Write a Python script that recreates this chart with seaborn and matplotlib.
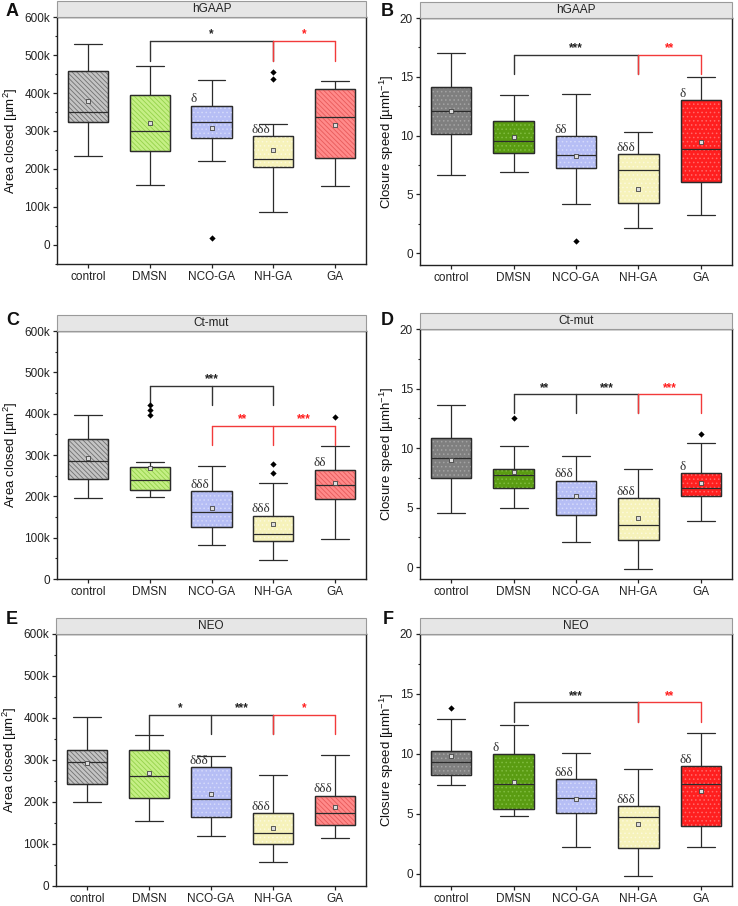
import numpy as np
import pandas as pd
import matplotlib
matplotlib.use("Agg")
import matplotlib.pyplot as plt
from matplotlib.patches import PathPatch, Rectangle
from matplotlib.ticker import MultipleLocator, FuncFormatter
import seaborn as sns

groups = ["control", "DMSN", "NCO-GA", "NH-GA", "GA"]

# five-number summaries per group: [whisker low, Q1, median, Q3, whisker high]
# A - hGAAP, area closed
A_box = [[234e3, 324e3, 351e3, 457e3, 530e3],
         [159e3, 247e3, 301e3, 396e3, 472e3],
         [221e3, 281e3, 324e3, 367e3, 433e3],
         [86e3, 205e3, 225e3, 286e3, 319e3],
         [155e3, 230e3, 336e3, 410e3, 431e3]]
A_mean = [379e3, 320e3, 307e3, 250e3, 315e3]
A_out = [("NCO-GA", 18e3), ("NH-GA", 455e3), ("NH-GA", 436e3)]
A_delta = ["", "", "δ", "δδδ", ""]

# B - hGAAP, closure speed
B_box = [[6.61, 10.13, 12.06, 14.1, 17.02],
         [6.87, 8.51, 9.53, 11.26, 13.48],
         [4.2, 7.23, 8.37, 9.96, 13.56],
         [2.13, 4.28, 7.04, 8.4, 10.3],
         [3.26, 6.07, 8.85, 13.02, 15.0]]
B_mean = [12.1, 9.9, 8.23, 5.5, 9.5]
B_out = [("NCO-GA", 1.02)]
B_delta = ["", "", "δδ", "δδδ", "δ"]

# C - Ct-mut, area closed
C_box = [[195e3, 241e3, 286e3, 338e3, 397e3],
         [198e3, 216e3, 240e3, 270e3, 284e3],
         [83e3, 127e3, 162e3, 213e3, 274e3],
         [46e3, 92e3, 109e3, 153e3, 232e3],
         [97e3, 193e3, 227e3, 264e3, 322e3]]
C_mean = [292e3, 268e3, 171e3, 134e3, 232e3]
C_out = [("DMSN", 421e3), ("DMSN", 409e3), ("DMSN", 396e3),
         ("NH-GA", 278e3), ("NH-GA", 257e3), ("GA", 391e3)]
C_delta = ["", "", "δδδ", "δδδ", "δδ"]

# D - Ct-mut, closure speed
D_box = [[4.57, 7.48, 9.16, 10.81, 13.64],
         [4.96, 6.64, 7.76, 8.24, 10.2],
         [2.07, 4.37, 5.77, 7.25, 9.3],
         [-0.2, 2.3, 3.53, 5.77, 8.24],
         [3.84, 5.94, 6.64, 7.9, 10.39]]
D_mean = [8.99, 7.98, 5.94, 4.09, 7.03]
D_out = [("DMSN", 12.55), ("GA", 11.2)]
D_delta = ["", "", "δδδ", "δδδ", "δ"]

# E - NEO, area closed
E_box = [[200e3, 244e3, 296e3, 325e3, 403e3],
         [154e3, 209e3, 262e3, 324e3, 359e3],
         [120e3, 164e3, 206e3, 283e3, 310e3],
         [57e3, 100e3, 126e3, 174e3, 264e3],
         [115e3, 146e3, 174e3, 215e3, 311e3]]
E_mean = [294e3, 268e3, 219e3, 139e3, 189e3]
E_out = []
E_delta = ["", "", "δδδ", "δδδ", "δδδ"]

# F - NEO, closure speed
F_box = [[7.45, 8.29, 9.35, 10.26, 12.9],
         [4.84, 5.42, 7.48, 9.99, 12.43],
         [2.23, 5.06, 6.37, 7.9, 10.1],
         [-0.14, 2.14, 4.78, 5.65, 8.73],
         [2.23, 4.03, 7.54, 8.96, 11.79]]
F_mean = [9.82, 7.7, 6.29, 4.14, 6.95]
F_out = [("control", 13.8)]
F_delta = ["", "δ", "δδδ", "δδδ", "δδ"]

# significance brackets: (legs, top, leg bottom, colour, [(x, stars)])
A_brk = [([1, 3], 536e3, 485e3, "k", [(2, "*")]),
         ([3, 4], 536e3, 485e3, "r", [(3.5, "*")])]
B_brk = [([1, 3], 16.88, 15.26, "k", [(2, "***")]),
         ([3, 4], 16.88, 15.26, "r", [(3.5, "**")])]
C_brk = [([1, 2, 3], 467e3, 422e3, "k", [(2, "***")]),
         ([2, 3, 4], 370e3, 324e3, "r", [(2.5, "**"), (3.5, "***")])]
D_brk = [([1, 2, 3], 14.51, 12.94, "k", [(1.5, "**"), (2.5, "***")]),
         ([3, 4], 14.51, 12.94, "r", [(3.5, "***")])]
E_brk = [([1, 2, 3], 408e3, 361e3, "k", [(1.5, "*"), (2.5, "***")]),
         ([3, 4], 408e3, 361e3, "r", [(3.5, "*")])]
F_brk = [([1, 3], 14.3, 12.66, "k", [(2, "***")]),
         ([3, 4], 14.3, 12.66, "r", [(3.5, "**")])]

LINES = "\\" * 7
DOTS = "...."
area_faces = ["#c4c4c4", "#c5ef85", "#b6bef5", "#f6f2ba", "#ff8a8a"]
area_hatch = [LINES, LINES, DOTS, DOTS, LINES]
area_hcol = ["#707070", "#94d24a", "#d4d9fa", "#fcf9dc", "#e85a5a"]
speed_faces = ["#7f7f7f", "#5a9c12", "#b6bef5", "#f6f2ba", "#ff1f1f"]
speed_hatch = [DOTS] * 5
speed_hcol = ["#a3a3a3", "#80bc40", "#d4d9fa", "#fcf9dc", "#ff6a6a"]

LINE = "#2b2b2b"
BRK_COL = {"k": "#333333", "r": "#f23a3a"}
STAR_COL = {"k": "#222222", "r": "#ff1e1e"}

sns.set_style("ticks")
plt.rcParams["font.family"] = ["Liberation Sans", "DejaVu Sans"]
plt.rcParams["mathtext.fontset"] = "custom"
plt.rcParams["mathtext.rm"] = "Liberation Sans"
plt.rcParams["mathtext.it"] = "Liberation Sans:italic"
plt.rcParams["hatch.linewidth"] = 0.6

W, H = 738, 906
fig = plt.figure(figsize=(W / 100, H / 100), dpi=100)


def px_axes(left, top, right, bottom):
    return fig.add_axes([left / W, 1 - bottom / H, (right - left) / W, (bottom - top) / H])


def draw_panel(ax, box, means, outliers, deltas, brackets, title, letter, letter_xy, kind):
    area = kind == "area"
    faces = area_faces if area else speed_faces
    hatches = area_hatch if area else speed_hatch
    hcols = area_hcol if area else speed_hcol

    df = pd.DataFrame({"group": np.repeat(groups, 5), "value": np.concatenate(box)})
    sns.boxplot(data=df, x="group", y="value", order=groups, hue="group", hue_order=groups,
                palette=faces, saturation=1, whis=(0, 100), width=0.65, fliersize=0,
                linecolor=LINE, linewidth=0.9, capwidths=0.45, legend=False, ax=ax)

    # hatch overlay + re-drawn outline on each box
    for p in [p for p in ax.patches if isinstance(p, PathPatch)]:
        i = int(round(p.get_path().vertices[:-1, 0].mean()))
        ax.add_patch(PathPatch(p.get_path(), transform=ax.transData, facecolor="none",
                               edgecolor=hcols[i], lw=0, hatch=hatches[i], zorder=2.05))
        ax.add_patch(PathPatch(p.get_path(), transform=ax.transData, facecolor="none",
                               edgecolor=LINE, lw=0.9, zorder=2.1))
    for ln in ax.lines:
        ln.set_zorder(2.2)

    # means
    sns.stripplot(x=groups, y=means, order=groups, jitter=False, marker="s", size=2.6,
                  color="#dddddd", edgecolor="#444444", linewidth=0.6, ax=ax, zorder=3)
    # outliers
    if outliers:
        sns.stripplot(x=[g for g, v in outliers], y=[v for g, v in outliers], order=groups,
                      jitter=False, marker="D", size=3.2, color="black", linewidth=0,
                      ax=ax, zorder=3)

    # delta markers above Q3
    for i, d in enumerate(deltas):
        if d:
            ax.annotate(d, xy=(i - 0.345, box[i][3]), xytext=(0, 0.3), textcoords="offset points",
                        ha="left", va="bottom", fontsize=9.5, color="#333333",
                        family=["Liberation Serif", "DejaVu Serif"], zorder=4)

    # significance brackets
    for legs, top, bot, c, stars in brackets:
        ax.plot([legs[0], legs[-1]], [top, top], color=BRK_COL[c], lw=1.0, zorder=2.3)
        for x in legs:
            ax.plot([x, x], [bot, top], color=BRK_COL[c], lw=1.0, zorder=2.3)
        for x, s in stars:
            ax.annotate(s, xy=(x, top), xytext=(0, 0.5), textcoords="offset points",
                        ha="center", va="bottom", fontsize=8.5, color=STAR_COL[c],
                        fontweight="bold", zorder=4)

    ax.set_xlim(-0.5, 4.5)
    ax.set_xlabel("")
    if area:
        ax.set_ylim(-50e3 if letter == "A" else 0, 600e3)
        ax.yaxis.set_major_locator(MultipleLocator(100e3))
        ax.yaxis.set_minor_locator(MultipleLocator(50e3))
        ax.yaxis.set_major_formatter(FuncFormatter(
            lambda v, _: "0" if abs(v) < 1 else f"{v / 1000:.0f}k"))
        ax.set_ylabel("Area closed [µm$^{2}$]", fontsize=9.5, color="#111111", labelpad=3)
    else:
        ax.set_ylim(-1, 20)
        ax.yaxis.set_major_locator(MultipleLocator(5))
        ax.yaxis.set_minor_locator(MultipleLocator(2.5))
        ax.set_ylabel("Closure speed [µmh$^{-1}$]", fontsize=9.5, color="#111111", labelpad=3)

    ax.tick_params(axis="both", which="major", direction="out", length=3, width=0.9,
                   pad=2, labelsize=8.5, colors="#222222")
    ax.tick_params(axis="y", which="minor", direction="out", length=1.8, width=0.8,
                   colors="#222222")
    for sp in ax.spines.values():
        sp.set_linewidth(1.0)
        sp.set_color("#222222")

    # grey title strip
    strip_h = 16.5 / (ax.get_position().height * H)
    ax.add_patch(Rectangle((0, 1), 1, strip_h, transform=ax.transAxes, clip_on=False,
                           facecolor="#e6e6e6", edgecolor="#9a9a9a", lw=0.8, zorder=5))
    ax.text(0.5, 1 + strip_h / 2, title, transform=ax.transAxes, ha="center", va="center",
            fontsize=8.5, color="#222222", zorder=6)

    fig.text(letter_xy[0] / W, 1 - letter_xy[1] / H, letter, ha="left", va="center",
             fontsize=13, fontweight="bold", color="#111111")


panels = [
    ((57, 17, 366, 264), A_box, A_mean, A_out, A_delta, A_brk, "hGAAP", "A", (6, 11), "area"),
    ((420, 18, 732, 265), B_box, B_mean, B_out, B_delta, B_brk, "hGAAP", "B", (381, 11), "speed"),
    ((57, 331, 366, 579), C_box, C_mean, C_out, C_delta, C_brk, "Ct-mut", "C", (6, 321), "area"),
    ((420, 329, 732, 579), D_box, D_mean, D_out, D_delta, D_brk, "Ct-mut", "D", (381, 321), "speed"),
    ((56, 634, 366, 886), E_box, E_mean, E_out, E_delta, E_brk, "NEO", "E", (6, 619), "area"),
    ((420, 634, 732, 886), F_box, F_mean, F_out, F_delta, F_brk, "NEO", "F", (383, 619), "speed"),
]

for rect, box, means, outs, deltas, brk, title, letter, lxy, kind in panels:
    ax = px_axes(*rect)
    draw_panel(ax, box, means, outs, deltas, brk, title, letter, lxy, kind)

fig.savefig("out.png", dpi=100, facecolor="white")
